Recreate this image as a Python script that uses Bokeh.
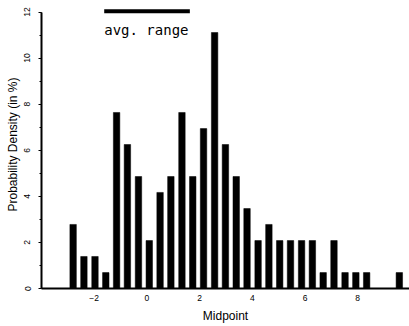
from bokeh.plotting import figure
from bokeh.models import Range1d, SingleIntervalTicker, FixedTicker, ColumnDataSource
from bokeh.embed import file_html
from bokeh.resources import INLINE
from bokeh.core.properties import value

# --- data ---
midpoints = [-2.80, -2.39, -1.97, -1.56, -1.15, -0.74, -0.32, 0.09, 0.50, 0.91,
             1.33, 1.74, 2.15, 2.57, 2.98, 3.39, 3.80, 4.22, 4.63, 5.04,
             5.45, 5.87, 6.28, 6.69, 7.10, 7.52, 7.93, 8.34, 8.76, 9.17, 9.58]
density = [2.78, 1.39, 1.39, 0.69, 7.64, 6.25, 4.86, 2.08, 4.17, 4.86,
           7.64, 4.86, 6.94, 11.11, 6.25, 4.86, 3.47, 2.08, 2.78, 2.08,
           2.08, 2.08, 2.08, 0.69, 2.08, 0.69, 0.69, 0.69, 0.0, 0.0, 0.69]
x_ticks = [-2, 0, 2, 4, 6, 8]
avg_range_x = [-1.62, 1.63]
avg_range_y = [12.03, 12.03]
avg_label = "avg. range"
x_title = "Midpoint"
y_title = "Probability Density (in %)"

FONT = "Liberation Sans"

p = figure(width=409, height=326, output_backend="svg", toolbar_location=None,
           x_range=Range1d(-4.0, 9.966), y_range=Range1d(0, 12.5),
           min_border_left=41, min_border_right=0, min_border_top=0, min_border_bottom=38)
p.outline_line_color = None
p.xgrid.visible = False
p.ygrid.visible = False
p.background_fill_color = "white"
p.border_fill_color = "white"

src = ColumnDataSource(dict(x=midpoints, top=density))
p.vbar(x="x", top="top", bottom=0, width=0.245, source=src,
       fill_color="black", line_color="black", line_width=0.5)

p.line(avg_range_x, avg_range_y, line_color="black", line_width=4)
p.text(x=[avg_range_x[0]], y=[11.2], text=[avg_label], text_font=value("DejaVu Sans Mono"),
       text_font_size="14px", text_color="black", text_align="left", text_baseline="alphabetic")

# x axis
xa = p.xaxis[0]
xa.ticker = FixedTicker(ticks=x_ticks)
xa.major_tick_out = 0
xa.major_tick_in = 0
xa.minor_tick_out = 0
xa.minor_tick_in = 0
xa.axis_line_width = 2
xa.axis_line_color = "black"
xa.major_label_text_font = FONT
xa.major_label_text_font_size = "8.5px"
xa.major_label_text_color = "black"
xa.major_label_standoff = 6
xa.axis_label = x_title
xa.axis_label_text_font = FONT
xa.axis_label_text_font_size = "12px"
xa.axis_label_text_font_style = "normal"
xa.axis_label_text_color = "black"
xa.axis_label_standoff = 5

# y axis
ya = p.yaxis[0]
ya.ticker = SingleIntervalTicker(interval=2, num_minor_ticks=2)
ya.bounds = (0, 12)
ya.major_tick_out = 3
ya.major_tick_in = 0
ya.minor_tick_out = 2
ya.minor_tick_in = 0
ya.axis_line_width = 2
ya.axis_line_color = "black"
ya.major_tick_line_color = "black"
ya.minor_tick_line_color = "black"
ya.major_label_orientation = "vertical"
ya.major_label_text_font = FONT
ya.major_label_text_font_size = "8.5px"
ya.major_label_text_color = "black"
ya.major_label_standoff = 8
ya.axis_label = y_title
ya.axis_label_text_font = FONT
ya.axis_label_text_font_size = "12px"
ya.axis_label_text_font_style = "normal"
ya.axis_label_text_color = "black"
ya.axis_label_standoff = 2

open("out.html", "w").write(file_html(p, INLINE))
